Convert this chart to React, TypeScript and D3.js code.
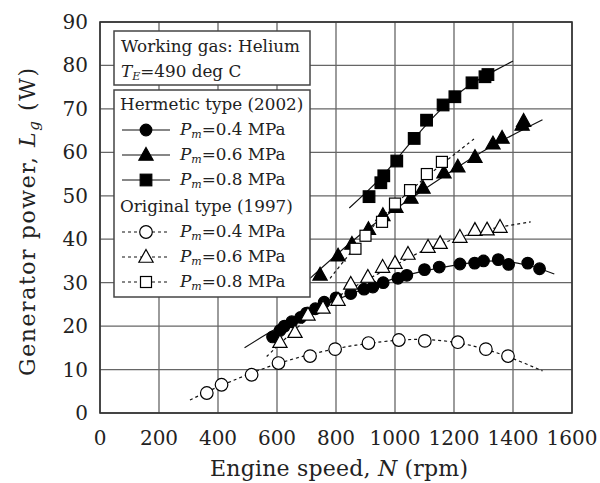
import * as d3 from 'd3';
import React from 'react';

// Engine speed (rpm) and generator power (W)
const hermetic04N = [585, 610, 625, 650, 680, 700, 730, 760, 800, 850, 895, 925, 960, 1010, 1040, 1100, 1150, 1220, 1270, 1300, 1350, 1385, 1450, 1490];
const hermetic04P = [17.5, 19, 20, 21, 22, 23, 24, 25.5, 26.5, 27.5, 28.5, 29, 30, 31, 31.7, 33, 33.6, 34.3, 34.5, 35, 35.3, 34.2, 34.5, 33.2];
const hermetic06N = [746, 807, 854, 910, 959, 1003, 1054, 1095, 1166, 1213, 1271, 1332, 1363, 1431, 1436];
const hermetic06P = [31.8, 36.2, 38.9, 42.3, 45.5, 47.4, 49.5, 51.8, 55.3, 56.7, 58.9, 62, 63.3, 66.3, 67.2];
const hermetic08N = [912, 952, 962, 1006, 1065, 1107, 1163, 1203, 1261, 1305, 1315];
const hermetic08P = [49.8, 53, 54.6, 58, 63.2, 67.4, 70.9, 72.8, 76, 77.4, 77.9];
const original04N = [362, 412, 514, 605, 712, 797, 910, 1013, 1101, 1213, 1308, 1383];
const original04P = [4.6, 6.5, 8.8, 11.5, 13.1, 14.7, 16.1, 16.8, 16.6, 16.3, 14.7, 13.1];
const original06N = [610, 661, 705, 756, 807, 850, 908, 958, 1000, 1044, 1112, 1153, 1220, 1271, 1312, 1356];
const original06P = [16.3, 18.6, 22.6, 24.2, 26, 29.7, 31.3, 33.6, 34.5, 36.6, 38.2, 39.1, 40.5, 42.1, 42.2, 42.8];
const original08N = [866, 900, 956, 1000, 1051, 1108, 1159];
const original08P = [37.8, 40.8, 44, 48.2, 51.3, 55, 57.8];

// fitted curves
const fit04hN = [490, 600, 800, 1000, 1200, 1350, 1450, 1540];
const fit04hP = [15, 19.5, 26, 31, 34, 35, 34, 32];
const fit06hN = [712, 900, 1100, 1300, 1500];
const fit06hP = [31, 42, 51.5, 60.3, 67.5];
const fit08hN = [845, 950, 1050, 1150, 1250, 1400];
const fit08hP = [47.2, 54, 62, 69.5, 75.3, 81];
const fit04oN = [305, 400, 600, 800, 1000, 1100, 1200, 1300, 1400, 1500];
const fit04oP = [3, 6, 11.3, 14.8, 16.7, 16.9, 16.3, 14.8, 12.5, 9.7];
const fit06oN = [565, 700, 800, 900, 1000, 1100, 1200, 1300, 1460];
const fit06oP = [13, 21.5, 26.5, 30.5, 34, 37.5, 40, 42, 44];
const fit08oN = [780, 900, 1000, 1100, 1272];
const fit08oP = [31, 41, 48, 54, 63.3];

const xTicks = [0, 200, 400, 600, 800, 1000, 1200, 1400, 1600];
const yTicks = [0, 10, 20, 30, 40, 50, 60, 70, 80, 90];

const font = '"DejaVu Serif", serif';
const legendSize = 16.8;

const x = d3.scaleLinear().domain([0, 1600]).range([100, 572]);
const y = d3.scaleLinear().domain([0, 90]).range([413, 22]);

const zip = (ns, ps) => ns.map((n, i) => [n, ps[i]]);

const lineGen = d3.line()
  .x(d => x(d[0]))
  .y(d => y(d[1]))
  .curve(d3.curveCatmullRom);

const Marker = ({ kind, cx, cy }) => {
  const filled = kind[0] === 'f';
  const fill = filled ? '#000' : '#fff';
  const shape = kind.slice(1);
  if (shape === 'circle') {
    return <circle cx={cx} cy={cy} r={filled ? 5.8 : 6.3} fill={fill} stroke="#000" strokeWidth={1.2} />;
  }
  if (shape === 'tri') {
    const s = 7.5;
    return <path d={`M${cx},${cy - s}L${cx + s * 0.95},${cy + s * 0.7}L${cx - s * 0.95},${cy + s * 0.7}Z`} fill={fill} stroke="#000" strokeWidth={1.2} />;
  }
  const h = filled ? 5.8 : 5.5;
  return <rect x={cx - h} y={cy - h} width={h * 2} height={h * 2} fill={fill} stroke="#000" strokeWidth={1.2} />;
};

const series = [
  { n: hermetic04N, p: hermetic04P, kind: 'fcircle' },
  { n: hermetic06N, p: hermetic06P, kind: 'ftri' },
  { n: hermetic08N, p: hermetic08P, kind: 'fsquare' },
  { n: original04N, p: original04P, kind: 'ocircle' },
  { n: original06N, p: original06P, kind: 'otri' },
  { n: original08N, p: original08P, kind: 'osquare' },
];

const fits = [
  { n: fit04hN, p: fit04hP, dash: null },
  { n: fit06hN, p: fit06hP, dash: null },
  { n: fit08hN, p: fit08hP, dash: null },
  { n: fit04oN, p: fit04oP, dash: '3,3' },
  { n: fit06oN, p: fit06oP, dash: '3,3' },
  { n: fit08oN, p: fit08oP, dash: '3,3' },
];

const legendRows = [
  { kind: 'fcircle', dash: null, label: '0.4' },
  { kind: 'ftri', dash: null, label: '0.6' },
  { kind: 'fsquare', dash: null, label: '0.8' },
  { kind: 'ocircle', dash: '3,3', label: '0.4' },
  { kind: 'otri', dash: '3,3', label: '0.6' },
  { kind: 'osquare', dash: '3,3', label: '0.8' },
];

const PmLabel = ({ tx, ty, value }) => (
  <text x={tx} y={ty} fontFamily={font} fontSize={legendSize} fill="#222">
    <tspan fontStyle="italic">P</tspan>
    <tspan fontStyle="italic" fontSize={11} dy={3}>m</tspan>
    <tspan dy={-3}>={value} MPa</tspan>
  </text>
);

const App = () => {
  const rowY = [130, 155, 180, 232, 257, 282];
  return (
    <svg width={600} height={483} style={{ position: 'absolute', left: 0, top: 0, background: '#fff' }}>
      {/* grid */}
      {xTicks.map(t => (
        <line key={'gx' + t} x1={x(t)} x2={x(t)} y1={y(0)} y2={y(90)} stroke="#666" strokeWidth={1.3} />
      ))}
      {yTicks.map(t => (
        <line key={'gy' + t} x1={x(0)} x2={x(1600)} y1={y(t)} y2={y(t)} stroke="#666" strokeWidth={1.3} />
      ))}
      <rect x={x(0)} y={y(90)} width={x(1600) - x(0)} height={y(0) - y(90)} fill="none" stroke="#333" strokeWidth={1.6} />

      {/* tick labels */}
      {xTicks.map(t => (
        <text key={'tx' + t} x={x(t)} y={445} textAnchor="middle" fontFamily={font} fontSize={20} fill="#222">{t}</text>
      ))}
      {yTicks.map(t => (
        <text key={'ty' + t} x={88} y={y(t) + 7} textAnchor="end" fontFamily={font} fontSize={20} fill="#222">{t}</text>
      ))}

      {/* axis titles */}
      <text x={339} y={476} textAnchor="middle" fontFamily={font} fontSize={22} fill="#222" textLength={258} lengthAdjust="spacing">
        Engine speed, <tspan fontStyle="italic">N</tspan> (rpm)
      </text>
      <text transform="translate(35,222) rotate(-90)" textAnchor="middle" fontFamily={font} fontSize={22} fill="#222" textLength={308} lengthAdjust="spacing">
        Generator power, <tspan fontStyle="italic">L</tspan><tspan fontStyle="italic" fontSize={15} dy={4}>g</tspan><tspan dy={-4}> (W)</tspan>
      </text>

      {/* fitted curves */}
      {fits.map((f, i) => (
        <path key={'f' + i} d={lineGen(zip(f.n, f.p))} fill="none" stroke="#111" strokeWidth={1.2} strokeDasharray={f.dash || undefined} />
      ))}

      {/* data points */}
      {series.map((s, i) => (
        <g key={'s' + i}>
          {zip(s.n, s.p).map((d, j) => (
            <Marker key={j} kind={s.kind} cx={x(d[0])} cy={y(d[1])} />
          ))}
        </g>
      ))}

      {/* legend boxes */}
      <rect x={114} y={31} width={196} height={54} fill="#fff" stroke="#444" strokeWidth={1.5} />
      <text x={121} y={52} fontFamily={font} fontSize={legendSize} fill="#222">Working gas: Helium</text>
      <text x={121} y={77} fontFamily={font} fontSize={legendSize} fill="#222">
        <tspan fontStyle="italic">T</tspan><tspan fontStyle="italic" fontSize={11} dy={3}>E</tspan><tspan dy={-3}>=490 deg C</tspan>
      </text>

      <rect x={114} y={90} width={196} height={207} fill="#fff" stroke="#444" strokeWidth={1.5} />
      <text x={120} y={110} fontFamily={font} fontSize={legendSize} fill="#222">Hermetic type (2002)</text>
      <text x={120} y={212} fontFamily={font} fontSize={legendSize} fill="#222">Original type (1997)</text>
      {legendRows.map((r, i) => (
        <g key={'l' + i}>
          <line x1={122} x2={170} y1={rowY[i]} y2={rowY[i]} stroke="#111" strokeWidth={1.2} strokeDasharray={r.dash || undefined} />
          <Marker kind={r.kind} cx={146} cy={rowY[i]} />
          <PmLabel tx={180} ty={rowY[i] + 5} value={r.label} />
        </g>
      ))}
    </svg>
  );
};

export default App;
